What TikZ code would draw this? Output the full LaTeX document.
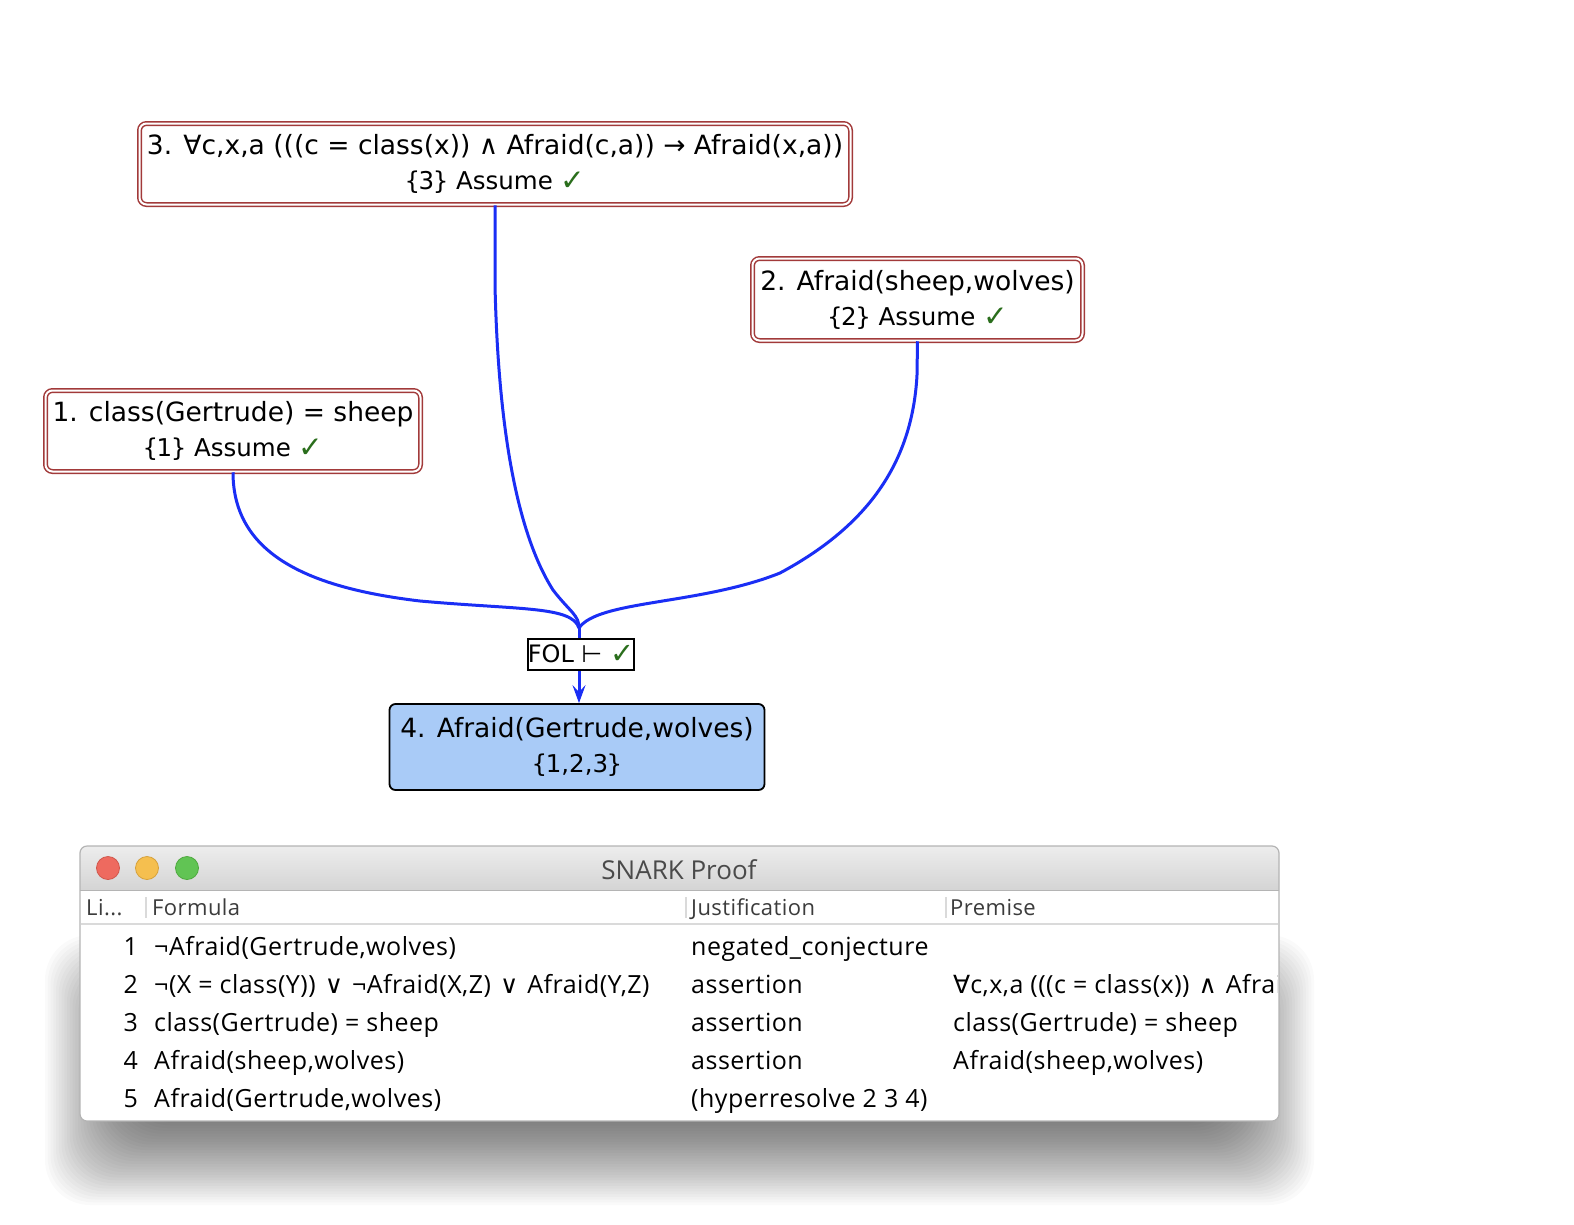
\documentclass[tikz,border=0pt]{standalone}
\usepackage{fontspec}
\setmainfont{DejaVu Sans}
\newfontfamily\nodefont{DejaVu Sans}
\newfontfamily\tablefont[LetterSpace=2.0]{Open Sans}
\newfontfamily\titlefont{Open Sans}
\newfontfamily\symfont{DejaVu Sans}
\usetikzlibrary{arrows.meta}

\definecolor{boxred}{HTML}{A23A3A}
\definecolor{edgeblue}{HTML}{1A2EF5}
\definecolor{fillblue}{HTML}{A9CBF7}
\definecolor{okgreen}{HTML}{2A6E1C}
\definecolor{titlegray}{HTML}{4A4A4A}
\definecolor{headgray}{HTML}{3C3C3C}
\definecolor{sepgray}{HTML}{DADADA}
\definecolor{framegray}{HTML}{B4B4B4}
\definecolor{barTop}{HTML}{EDEDED}
\definecolor{barBot}{HTML}{D4D4D4}
\definecolor{lightred}{HTML}{EE6A5F}
\definecolor{lightredrim}{HTML}{D0574C}
\definecolor{lightyellow}{HTML}{F5BF4F}
\definecolor{lightyellowrim}{HTML}{D6A13A}
\definecolor{lightgreen}{HTML}{61C454}
\definecolor{lightgreenrim}{HTML}{4EA93E}

% green tick, premise set, second line of a proof box, table connective
\newcommand\ok{{\color{okgreen}\raisebox{-1pt}{\scalebox{1.2}{✓}}}}
\newcommand\grp[1]{\{\kern-1.5pt#1\kern-1.5pt\}}
\newcommand\sub[1]{{\fontsize{24.5}{35}\selectfont #1}}
\newcommand\tblsym[1]{{\symfont\kern2pt#1\kern2pt}}

\begin{document}
\begin{tikzpicture}[x=1pt,y=-1pt,
  proofbox/.style={draw=boxred, double=white, double distance=2pt, line width=1.5pt,
    rounded corners=7pt, fill=white, inner sep=0pt, align=center,
    font=\nodefont\fontsize{26.5}{35}\selectfont},
  goalbox/.style={draw=black, line width=1.8pt, rounded corners=6pt, fill=fillblue,
    inner sep=0pt, align=center, font=\nodefont\fontsize{26.5}{35}\selectfont},
  rulebox/.style={draw=black, line width=1.8pt, fill=white, inner sep=0pt,
    font=\nodefont\fontsize{24}{28}\selectfont},
  edge/.style={draw=edgeblue, line width=3pt, line join=round},
  headtext/.style={anchor=base west, inner sep=0pt, text=headgray, font=\tablefont\fontsize{22}{24}\selectfont},
  celltext/.style={anchor=base west, inner sep=0pt, text=black, font=\tablefont\fontsize{25}{28}\selectfont},
  rownum/.style={anchor=base east, inner sep=0pt, text=black, font=\tablefont\fontsize{25}{28}\selectfont},
  colsep/.style={draw=sepgray, line width=1.5pt},
  light/.style={circle, inner sep=0pt, minimum size=23pt, line width=0.8pt}
]
\useasboundingbox[fill=white] (0,0) rectangle (1574,1224);

% ---------- proof graph ----------
\node[proofbox, minimum width=711pt, minimum height=81pt] (n3) at (495,164)
  {3. ∀c,x,a (((c = class(x)) ∧ Afraid(c,a)) → Afraid(x,a))\\\sub{\grp{3} Assume \ok}};
\node[proofbox, minimum width=330pt, minimum height=82pt] (n2) at (917.5,299.5)
  {2. Afraid(sheep,wolves)\\\sub{\grp{2} Assume \ok}};
\node[proofbox, minimum width=375pt, minimum height=81pt] (n1) at (233,431)
  {1. class(Gertrude) = sheep\\\sub{\grp{1} Assume \ok}};
\node[rulebox, minimum width=103pt, minimum height=31pt] (fol) at (581,654.5)
  {FOL ⊢ \ok};
\node[goalbox, minimum width=375pt, minimum height=86pt] (n4) at (577,747)
  {4. Afraid(Gertrude,wolves)\\\sub{\grp{1,2,3}}};

\coordinate (join) at (579,628);

\draw[edge] (n1.south) .. controls (233,555) and (310,588) .. (420,601)
  .. controls (520,610) and (572,606) .. (join);
\draw[edge] (n3.south) -- (495,285) .. controls (498,420) and (515,530) .. (553,590)
  .. controls (570,612) and (579,615) .. (join);
\draw[edge] (n2.south) -- (917,375) .. controls (912,470) and (860,530) .. (780,573)
  .. controls (700,605) and (598,600) .. (join);
\draw[edge] (join) -- (join |- fol.north);
\draw[edge, -{Stealth[length=18pt, width=13pt, inset=7pt]}] (join |- fol.south) -- (join |- n4.north);

% ---------- soft window shadow ----------
\foreach \i in {0,...,40} {
  \pgfmathsetmacro{\d}{-55+2.75*\i}
  \fill[black, opacity=0.018, rounded corners=45pt]
    (100+\d, 990+\d) rectangle (1259-\d, 1150-\d);
}

% ---------- window ----------
\begin{scope}
  \clip[rounded corners=7pt] (80,846) rectangle (1279,1121);
  \shade[top color=barTop, bottom color=barBot] (80,846) rectangle (1279,890);
  \fill[white] (80,890) rectangle (1279,1121);
\end{scope}
\draw[framegray, line width=1pt] (80,890) -- (1279,890);
\draw[framegray, line width=1.2pt, rounded corners=7pt] (80,846) rectangle (1279,1121);

\node[light, fill=lightred, draw=lightredrim] (close) at (108,868) {};
\node[light, fill=lightyellow, draw=lightyellowrim] (mini) at (147,868) {};
\node[light, fill=lightgreen, draw=lightgreenrim] (zoom) at (187,868) {};
\node[anchor=base, inner sep=0pt, text=titlegray, font=\titlefont\fontsize{26}{28}\selectfont]
  (title) at (679,879) {SNARK Proof};

% header row
\draw[colsep] (146,897) -- (146,918);
\draw[colsep] (686,897) -- (686,918);
\draw[colsep] (946,897) -- (946,918);
\draw[draw=sepgray, line width=1.2pt] (81,924) -- (1278,924);
\node[headtext] (hLine) at (86,915) {Li...};
\node[headtext] (hForm) at (152,915) {Formula};
\node[headtext] (hJust) at (691,915) {Justification};
\node[headtext] (hPrem) at (950,915) {Premise};

% rows
\node[rownum] (r1) at (138,955) {1};
\node[rownum] (r2) at (138,993) {2};
\node[rownum] (r3) at (138,1031) {3};
\node[rownum] (r4) at (138,1069) {4};
\node[rownum] (r5) at (138,1107) {5};

\node[celltext] (f1) at (154,955) {¬Afraid(Gertrude,wolves)};
\node[celltext] (f2) at (154,993) {¬(X = class(Y)) \tblsym{∨} ¬Afraid(X,Z) \tblsym{∨} Afraid(Y,Z)};
\node[celltext] (f3) at (154,1031) {class(Gertrude) = sheep};
\node[celltext] (f4) at (154,1069) {Afraid(sheep,wolves)};
\node[celltext] (f5) at (154,1107) {Afraid(Gertrude,wolves)};

\node[celltext] (j1) at (691,955) {negated\_conjecture};
\node[celltext] (j2) at (691,993) {assertion};
\node[celltext] (j3) at (691,1031) {assertion};
\node[celltext] (j4) at (691,1069) {assertion};
\node[celltext] (j5) at (691,1107) {(hyperresolve 2 3 4)};

\begin{scope}
  \clip (946,926) rectangle (1277,1120);
  \node[celltext] (p2) at (953,993) {{\symfont ∀}c,x,a (((c = class(x)) \tblsym{∧} Afraid(c,a)) {\symfont →} Afraid(x,a))};
  \node[celltext] (p3) at (953,1031) {class(Gertrude) = sheep};
  \node[celltext] (p4) at (953,1069) {Afraid(sheep,wolves)};
\end{scope}
\end{tikzpicture}
\end{document}
